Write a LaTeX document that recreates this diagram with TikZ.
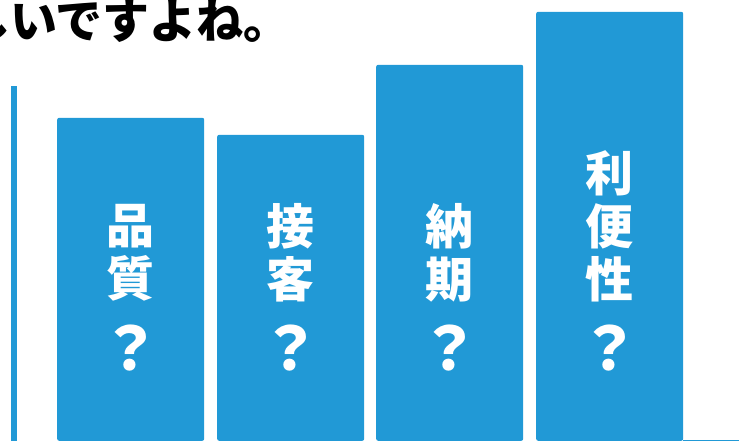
\documentclass[tikz,border=0pt]{standalone}
\usepackage{fontspec}
\newfontfamily\jp{Noto Sans CJK JP}
\definecolor{barblue}{HTML}{2199D6}

\begin{document}
\begin{tikzpicture}[x=1pt,y=-1pt]
		\tikzstyle{every node}+=[inner sep=0pt]
		\tikzstyle{bar}=[fill=barblue, rounded corners=2pt, minimum width=147pt, anchor=south west]
		\tikzstyle{lbl}=[text=white, align=center, font=\jp\bfseries\fontsize{48}{53}\selectfont]
		\tikzstyle{qmark}=[text=white, font=\jp\bfseries\fontsize{60}{60}\selectfont]
		\useasboundingbox (0,0) rectangle (739,441);
		\draw (-37,21) node [anchor=west, font=\jp\bfseries\fontsize{47}{47}\selectfont] (title) {しいですよね。};
		\fill [barblue] (11,86) rectangle (17,441);
		\coordinate (base) at (683,441);
		\coordinate (edge) at (739,441);
		\draw [barblue, line width=2.5pt] (base) -- (edge);
		\node [bar, minimum height=323pt] (b1) at (57,441) {};
		\node [bar, minimum height=306pt] (b2) at (217,441) {};
		\node [bar, minimum height=376pt] (b3) at (376,441) {};
		\node [bar, minimum height=429pt] (b4) at (536,441) {};
		\node [lbl] (t1) at ([yshift=188pt]b1.south) {品\\質};
		\node [lbl] (t2) at ([yshift=188pt]b2.south) {接\\客};
		\node [lbl] (t3) at ([yshift=188pt]b3.south) {納\\期};
		\node [lbl] (t4) at ([yshift=215pt]b4.south) {利\\便\\性};
		\node [qmark] (q1) at ([yshift=93pt]b1.south) {？};
		\node [qmark] (q2) at ([yshift=93pt]b2.south) {？};
		\node [qmark] (q3) at ([yshift=93pt]b3.south) {？};
		\node [qmark] (q4) at ([yshift=93pt]b4.south) {？};
	\end{tikzpicture}
\end{document}
